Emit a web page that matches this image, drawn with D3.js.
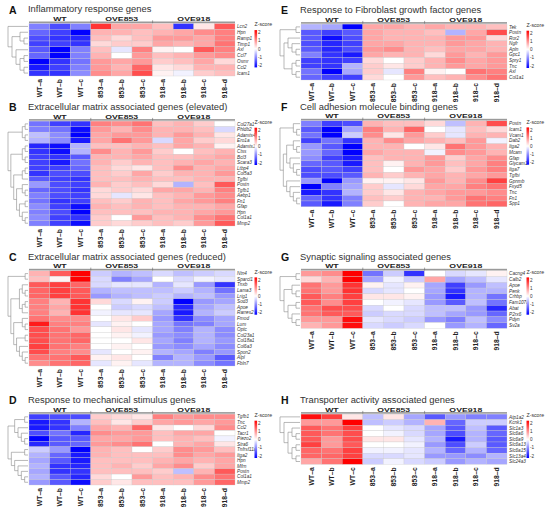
<!DOCTYPE html>
<html>
<head>
<meta charset="utf-8">
<script src="https://cdn.jsdelivr.net/npm/d3@7"></script>
<style>
body { margin: 0; background: #fff; }
svg { display: block; font-family: "Liberation Sans", Arial, sans-serif; }
</style>
</head>
<body>
<svg width="550" height="509"></svg>
<script>
var samples = ["WT–a", "WT–b", "WT–c", "853–a", "853–b", "853–c", "918–a", "918–b", "918–c", "918–d"];
var groupNames = ["WT", "OVE853", "OVE918"];
var groupSizes = [3, 3, 4];
var legendTicks = [2, 1, 0, -1, -2];

// A
var genesA = ["Lcn2", "Hpn", "Ramp1", "Timp1", "Axl", "Ccl7", "Osmr", "Ccl2", "Icam1"];
var valuesA = [
    [-1.0, -1.4, -1.0, 1.6, 0.7, 0.7, 0.5, -1.6, 0.2, 1.3],
    [-1.2, -1.5, -2.0, 0.6, 0.6, 0.5, 0.6, 0.7, 0.9, 1.0],
    [-1.4, -1.6, -1.7, 0.5, 0.3, 0.5, 0.8, 0.8, 0.7, 1.0],
    [-1.5, -1.5, -1.6, 0.3, 0.4, 0.4, 0.7, 0.6, 0.7, 1.1],
    [-1.3, -2.0, -1.0, 0.5, -0.2, 1.0, 0.1, 0.0, 1.3, 1.0],
    [-1.2, -2.0, -1.0, 0.6, 0.0, 0.8, 0.5, 0.6, 0.8, 0.9],
    [-2.0, -1.6, -1.1, 0.8, 0.7, 0.8, 0.4, 0.5, 0.7, 0.3],
    [-1.8, -1.5, -1.0, 0.8, 0.6, 1.2, 0.2, 0.3, 0.6, 0.6],
    [-1.6, -1.6, -0.9, 0.9, 0.7, 1.4, 0.1, -0.1, 0.4, 0.5]
];
var treeA = [0, [[1, [2, 3]], [4, [[5, 6], [7, 8]]]]];

// B
var genesB = ["Col27a1", "Phldb2", "Adamts4", "Ero1a", "Adamts1", "Ctss", "Bcl3", "Scara3", "Ltbp4", "Col5a3",
    "Tgfbi", "Postn", "Tgfb1", "Aebp1", "Fn1", "Gfap", "Hpn", "Col1a1", "Mmp2"];
var valuesB = [
    [-1.1, -1.5, -1.6, 1.0, 0.9, 1.1, 0.5, 0.6, 0.4, 0.0],
    [-1.0, -1.1, -1.9, 0.8, 0.6, 0.9, 0.6, 0.6, 0.5, -0.3],
    [-0.5, -0.9, -2.0, 0.7, 0.8, 0.8, 0.6, 0.8, 0.6, 0.2],
    [-0.6, -0.9, -1.8, 0.7, 1.1, 0.8, -0.3, 0.7, 0.4, 0.3],
    [-1.7, -1.9, -0.6, 0.5, 0.5, 0.6, 0.5, 0.7, 0.6, 0.1],
    [-1.6, -1.9, -0.6, 0.9, 0.6, 0.8, 0.4, 0.0, 0.5, 0.6],
    [-1.5, -1.6, -1.3, 0.6, 0.6, 0.7, 0.5, 0.5, 0.6, 0.7],
    [-1.5, -1.8, -1.1, 0.6, 0.4, 0.6, 0.5, 0.6, 0.7, 0.6],
    [-1.5, -1.5, -1.2, 0.5, 0.3, 0.2, 0.5, 0.9, 0.6, 0.7],
    [-1.6, -1.4, -1.4, 0.5, 0.4, 0.7, 0.4, 0.6, 0.6, 0.8],
    [-1.3, -1.5, -1.6, 0.5, 0.5, 0.6, 0.5, 0.5, 0.6, 0.6],
    [-0.8, -1.4, -1.5, 0.6, 0.4, 0.5, 0.3, -0.6, 0.5, 1.3],
    [-1.2, -1.4, -1.6, 0.3, 0.4, 0.3, 0.7, 0.7, 0.6, 1.0],
    [-1.0, -1.4, -1.5, 0.3, -0.2, 0.2, 0.5, 0.6, 0.8, 0.9],
    [-1.1, -1.6, -1.5, 0.5, 0.4, 0.6, 0.5, 0.7, 0.8, 1.0],
    [-0.9, -1.5, -1.9, 0.6, 0.5, 0.6, 0.5, 0.6, 0.6, 0.7],
    [-1.0, -1.4, -2.0, 0.5, 0.5, 0.5, 0.6, 0.6, 0.7, 0.8],
    [-0.9, -1.5, -1.6, 0.4, 0.0, 0.8, 0.5, 0.6, 0.9, 1.1],
    [-1.0, -1.5, -1.9, 0.4, 0.3, 0.4, 0.5, 0.4, 0.8, 1.3]
];
var treeB = [[[0, 1], [2, 3]], [[[4, 5], [6, 7]], [[[8, 9], 10], [[11, [12, 13]], [[14, 15], [16, [17, 18]]]]]]];

// C
var genesC = ["Ntn4", "Sparcl1", "Tnxb", "Lama3", "Lrig1", "Sod3", "Apoe", "Rarres2", "Fmod", "Lum",
    "Optc", "Col23a1", "Col18a1", "Col6a3", "Spon2", "Alpl", "Fbln7"];
var valuesC = [
    [0.6, 1.3, 2.0, -0.4, -0.6, -0.5, -0.3, -0.5, -0.4, -0.3],
    [0.5, 0.1, 2.0, -0.3, -1.0, -0.7, 0.0, -0.3, -0.1, -0.2],
    [1.3, 1.5, 1.2, -0.3, -0.2, -0.2, -0.6, -0.2, -0.8, -1.6],
    [1.2, 1.5, 1.3, -0.6, -0.5, -0.5, -0.5, -0.4, -0.6, -1.1],
    [1.2, 1.5, 1.3, -0.8, -0.6, -0.5, -0.4, -0.6, -0.5, -0.8],
    [1.0, 0.6, 1.6, 0.3, -0.3, 0.1, -0.4, -2.0, -0.8, -0.7],
    [1.0, 0.7, 1.6, 0.0, -0.4, -0.3, -0.5, -1.7, -0.7, -0.5],
    [1.0, 0.6, 1.6, -0.1, -0.2, -0.2, -0.7, -1.8, -0.6, -0.4],
    [1.1, 0.9, 0.9, 0.0, 0.2, 0.4, -0.8, -1.6, -0.9, -0.7],
    [1.8, 1.0, 1.0, -0.2, 0.1, 0.0, -0.7, -1.1, -1.0, -0.7],
    [1.4, 1.1, 0.8, 0.0, 0.2, -0.2, -0.7, -1.0, -0.6, -0.9],
    [1.4, 1.1, 1.2, 0.0, 0.1, -0.1, -0.8, -0.9, -0.6, -0.9],
    [1.4, 1.1, 1.2, 0.0, 0.0, 0.2, -0.7, -1.0, -0.6, -0.8],
    [1.5, 1.1, 1.0, 0.0, 0.1, 0.0, -0.8, -0.9, -0.7, -0.9],
    [1.4, 1.0, 0.9, -0.2, 0.0, 0.1, -0.6, -0.7, -1.0, -0.8],
    [1.1, 1.1, 1.3, 0.1, 0.2, 0.0, -1.0, -0.6, -0.8, -1.3],
    [0.9, 1.1, 1.2, -0.2, 0.1, -0.2, -0.6, -0.6, -0.9, -1.1]
];
var treeC = [[0, 1], [[[2, [3, 4]], [[5, 6], 7]], [[8, [9, 10]], [[11, 12], [13, [14, [15, 16]]]]]]];

// D
var genesD = ["Tgfb1", "Tnc", "Ccl2", "Tacr1", "Piezo2", "Stra6", "Tnfrsf11a", "Itga2", "Hpn", "Mfrn",
    "Postn", "Col1a1", "Mmp2"];
var valuesD = [
    [-1.5, -1.4, -1.4, 0.4, 0.3, 0.2, 1.0, 0.8, 0.9, 0.9],
    [-1.8, -1.6, -0.6, 0.5, 0.2, 0.4, 0.7, 0.8, 0.7, 0.8],
    [-1.8, -1.6, -1.0, 0.7, 0.6, 1.2, 0.2, 0.0, 0.3, 0.9],
    [-1.4, -1.1, -1.7, 0.9, 0.8, 0.8, 0.5, 0.7, 0.7, 0.0],
    [-2.0, -1.3, -1.3, 0.7, 0.7, 0.8, 0.5, 0.6, 0.5, -0.1],
    [-1.7, -1.3, -1.2, 0.8, 0.9, 1.1, 0.0, 0.6, 0.7, 0.2],
    [-0.4, -0.8, -2.0, 0.6, 0.5, 0.0, 0.4, 0.9, 0.8, 0.5],
    [-0.6, -1.2, -1.8, 0.6, 0.5, 0.5, 0.5, 0.9, 0.7, 0.8],
    [-0.7, -1.3, -1.8, 0.5, 0.5, 0.5, 0.6, 0.7, 0.6, 0.7],
    [-0.6, -1.6, -1.7, 0.5, 0.6, 0.4, 0.7, 0.9, 0.4, 0.7],
    [-0.7, -1.6, -1.6, 0.5, 0.5, 0.5, 0.4, -0.5, 0.6, 1.3],
    [-0.6, -1.3, -1.7, 0.3, 0.0, 0.8, 0.5, 0.6, 0.9, 1.1],
    [-0.8, -1.3, -1.9, 0.4, 0.2, 0.5, 0.5, 0.5, 0.8, 1.2]
];
var treeD = [[[0, 1], [2, [3, [4, 5]]]], [[6, 7], [8, [9, [10, [11, 12]]]]]];

// E
var genesE = ["Tek", "Postn", "Ror2", "Ngfr", "Apln", "Gpc1", "Spry1", "Tnc", "Axl", "Col1a1"];
var valuesE = [
    [-0.6, -0.7, -2.0, 0.7, 0.7, 0.6, 0.7, 0.6, 0.6, 0.5],
    [-1.3, -1.5, -1.3, 0.7, 0.6, 0.6, 0.5, -0.6, 0.7, 1.4],
    [-1.3, -1.9, -1.4, 0.7, 0.6, 0.6, 0.6, 0.8, 0.8, 0.3],
    [-1.4, -1.7, -1.5, 0.7, 0.7, 0.6, 0.6, 0.8, 0.7, 0.6],
    [-1.3, -1.7, -1.4, 0.8, 0.9, 0.6, 0.5, 0.7, 0.7, 0.6],
    [-1.0, -1.6, -1.8, 0.7, 0.6, 0.6, 0.3, 0.8, 0.6, 0.8],
    [-1.5, -1.6, -1.5, 0.3, 0.0, 0.4, 0.6, 0.9, 0.7, 0.8],
    [-1.5, -1.6, -0.6, 0.4, 0.2, 0.4, 0.6, 0.8, 0.7, 0.8],
    [-1.1, -2.0, -0.7, 0.4, -0.2, 1.0, 0.1, 0.0, 1.1, 1.0],
    [-1.2, -1.5, -1.5, 0.3, 0.0, 0.8, 0.5, 0.6, 0.9, 1.1]
];
var treeE = [[0, 1], [[2, [3, [4, 5]]], [[6, 7], [8, 9]]]];

// F
var genesF = ["Postn", "Icam1", "Vcam1", "Dab2", "Itga2", "Mcam", "Gfap", "Glycam1", "Itga7", "Tgfbi",
    "Gpnmb", "Fxyd5", "Tnc", "Fn1", "Spp1"];
var valuesF = [
    [-1.0, -1.5, -1.4, 0.6, 0.5, 0.5, 0.3, -0.5, 0.6, 1.4],
    [-1.3, -2.0, -0.7, 1.0, 0.6, 1.2, 0.0, -0.2, 0.5, 0.3],
    [-1.1, -2.0, -0.4, 0.9, 0.2, 0.8, 0.4, -0.2, 0.6, 0.6],
    [-1.5, -1.1, -1.6, 0.6, 0.9, 0.7, 0.6, 0.5, 0.8, -0.1],
    [-0.8, -1.3, -2.0, 0.6, 0.6, 0.0, 0.2, 1.1, 0.8, 0.6],
    [-0.8, -1.2, -2.0, 0.7, 0.6, 0.6, -0.1, 0.9, 0.8, 0.6],
    [-0.9, -1.5, -1.8, 0.5, 0.6, 0.6, 0.8, 0.4, 0.7, 0.9],
    [-1.2, -1.3, -1.8, 0.5, 0.1, 0.6, 0.8, 0.5, 0.7, 1.0],
    [-1.4, -1.3, -1.5, 0.5, 0.0, 0.8, 0.7, 0.4, 0.8, 1.0],
    [-1.4, -1.4, -1.3, 0.6, 0.4, 0.6, 0.7, 0.6, 0.7, 0.8],
    [-0.8, -2.0, -0.8, 0.1, 0.1, 0.2, 0.8, 0.6, 0.9, 1.5],
    [-2.0, -1.0, -0.7, 0.4, -0.2, 0.3, 0.7, 0.7, 1.0, 1.1],
    [-1.8, -1.6, -0.6, 0.4, 0.2, 0.6, 0.7, 0.8, 0.8, 0.9],
    [-1.2, -1.6, -1.0, 0.5, 0.4, 0.6, 0.6, 0.8, 1.1, 1.0],
    [-1.3, -1.8, -1.0, 0.4, 0.0, 0.6, 0.7, 0.7, 1.1, 1.2]
];
var treeF = [[0, [1, 2]], [[[3, [4, 5]], [6, [7, [8, 9]]]], [10, [11, [12, [13, 14]]]]]];

// G
var genesG = ["Cacng4", "Calb2", "Apoe", "Penk", "Crhbp", "Fam107a", "Abat", "P2rx6", "Pdyn", "Sv2a"];
var valuesG = [
    [0.8, 0.9, 2.0, -1.1, -0.4, -1.6, 0.0, -0.3, -0.2, 0.1],
    [0.3, 0.6, 2.0, -0.7, -0.1, -0.4, 0.7, -0.7, -0.5, -0.2],
    [1.1, 0.8, 1.6, 0.1, -0.2, 0.1, -0.7, -1.5, -0.8, -0.5],
    [1.1, 0.8, 1.6, -0.3, -0.2, 0.0, -0.7, -1.6, -0.6, -0.6],
    [1.3, 1.0, 1.5, 0.2, 0.2, 0.1, -0.8, -1.8, -0.6, -1.1],
    [1.3, 0.9, 1.5, 0.0, -0.1, -0.2, -0.8, -1.3, -0.5, -1.1],
    [1.1, 1.4, 1.4, -0.3, 0.0, -0.3, -0.5, -0.5, -0.8, -1.7],
    [1.1, 1.3, 1.3, -0.4, -0.3, -0.3, -0.5, -0.7, -0.8, -1.2],
    [0.8, 0.8, 1.9, -0.2, -0.3, -0.4, -0.8, -1.0, -0.5, -0.9],
    [0.6, 0.8, 1.9, -0.3, -0.4, -0.3, 0.0, -0.8, -0.6, -1.2]
];
var treeG = [[0, 1], [[2, [3, 4]], [[5, 6], [7, [8, 9]]]]];

// H
var genesH = ["Atp1a2", "Kcnk1", "Slc1a3", "Slc6a6", "Slc6a9", "Slc6a13", "Slc6a15", "Slc13a4", "Slc24a3"];
var valuesH = [
    [1.9, 1.5, 0.2, -0.5, 0.2, -0.7, -1.3, -0.8, -1.0, -1.0],
    [0.8, 0.8, 2.0, -0.5, -0.4, -0.6, 0.6, -1.2, -0.4, -0.4],
    [1.3, 1.1, 1.5, 0.0, -0.2, -0.3, -0.7, -1.3, -0.5, -1.3],
    [1.3, 1.1, 1.4, 0.0, -0.1, -0.3, -0.7, -1.4, -0.6, -1.2],
    [1.3, 0.8, 1.4, 0.2, 0.2, -0.2, -0.6, -1.8, -0.6, -1.3],
    [1.5, 0.8, 1.3, 0.0, 0.0, -0.1, -0.8, -1.4, -0.4, -1.3],
    [1.2, 1.1, 1.5, -0.1, -0.1, -0.2, -0.6, -1.2, -0.6, -1.2],
    [1.2, 1.2, 1.5, -0.3, -0.3, -0.2, -0.8, -0.8, -0.9, -0.6],
    [0.7, 1.1, 2.0, -0.4, -0.1, -0.3, -0.4, -0.8, -0.6, -0.7]
];
var treeH = [0, [1, [[2, [3, 4]], [[5, 6], [7, 8]]]]];

var panels = [
    {letter: "A", title: "Inflammatory response genes", genes: genesA, values: valuesA, tree: treeA, x: 29, top: 22.7, bottom: 76},
    {letter: "B", title: "Extracellular matrix associated genes (elevated)", genes: genesB, values: valuesB, tree: treeB, x: 29, top: 120.3, bottom: 226},
    {letter: "C", title: "Extracellular matrix associated genes (reduced)", genes: genesC, values: valuesC, tree: treeC, x: 29, top: 270, bottom: 366},
    {letter: "D", title: "Response to mechanical stimulus genes", genes: genesD, values: valuesD, tree: treeD, x: 29, top: 413.3, bottom: 485},
    {letter: "E", title: "Response to Fibroblast growth factor genes", genes: genesE, values: valuesE, tree: treeE, x: 301, top: 23.3, bottom: 80},
    {letter: "F", title: "Cell adhesion molecule binding genes", genes: genesF, values: valuesF, tree: treeF, x: 301, top: 120, bottom: 206.7},
    {letter: "G", title: "Synaptic signaling associated genes", genes: genesG, values: valuesG, tree: treeG, x: 301, top: 270, bottom: 328.3},
    {letter: "H", title: "Transporter activity associated genes", genes: genesH, values: valuesH, tree: treeH, x: 301, top: 413.3, bottom: 464.3}
];

var svg = d3.select("svg");
var color = d3.scaleLinear().domain([-2, 0, 2]).range(["#0000ff", "#ffffff", "#ff0000"]);
var heatW = 206;

var grad = svg.append("defs").append("linearGradient")
    .attr("id", "zgrad").attr("x1", 0).attr("y1", 0).attr("x2", 0).attr("y2", 1);
grad.selectAll("stop")
    .data(legendTicks)
    .enter().append("stop")
    .attr("offset", function (d, i) { return i / (legendTicks.length - 1); })
    .attr("stop-color", function (d) { return color(d); });

function drawPanel(p) {
    var g = svg.append("g");
    var x = d3.scaleBand().domain(samples).range([p.x, p.x + heatW]);
    var y = d3.scaleBand().domain(p.genes).range([p.top + 0.8, p.bottom]);

    // letter + title (source figure is a bit stretched sideways)
    g.append("text").attr("x", p.x - 20).attr("y", p.top - 9)
        .attr("font-size", 10.5).attr("font-weight", "bold").attr("fill", "#111")
        .text(p.letter);
    g.append("text")
        .attr("transform", "translate(" + (p.x - 1) + "," + (p.top - 10.5) + ") scale(1.13,1)")
        .attr("font-size", 8.3).attr("fill", "#333")
        .text(p.title);

    // cells
    var cells = [];
    p.values.forEach(function (row, r) {
        row.forEach(function (v, c) {
            cells.push({gene: p.genes[r], sample: samples[c], v: v});
        });
    });
    g.selectAll("rect.cell")
        .data(cells)
        .enter().append("rect")
        .attr("class", "cell")
        .attr("x", function (d) { return x(d.sample); })
        .attr("y", function (d) { return y(d.gene); })
        .attr("width", x.bandwidth())
        .attr("height", y.bandwidth())
        .attr("fill", function (d) { return color(d.v); })
        .attr("stroke", "#c8c8c8")
        .attr("stroke-width", 0.3);

    // group header bar
    g.append("rect").attr("x", p.x).attr("y", p.top - 1.2)
        .attr("width", heatW).attr("height", 1.6).attr("fill", "#9a9a9a");
    var start = 0;
    groupNames.forEach(function (name, i) {
        var x0 = x(samples[start]);
        var x1 = x(samples[start + groupSizes[i] - 1]) + x.bandwidth();
        if (i > 0) {
            g.append("line").attr("x1", x0).attr("x2", x0)
                .attr("y1", p.top - 2.4).attr("y2", p.top + 0.4)
                .attr("stroke", "#666").attr("stroke-width", 0.6);
        }
        g.append("text")
            .attr("transform", "translate(" + ((x0 + x1) / 2) + "," + (p.top - 1.8) + ") scale(1.45,1)")
            .attr("text-anchor", "middle").attr("font-size", 6)
            .attr("font-weight", "bold").attr("fill", "#222")
            .text(name);
        start += groupSizes[i];
    });

    // gene labels
    g.selectAll("text.gene")
        .data(p.genes)
        .enter().append("text")
        .attr("class", "gene")
        .attr("x", p.x + heatW + 2)
        .attr("y", function (d) { return y(d) + y.bandwidth() / 2; })
        .attr("dy", "0.35em")
        .attr("font-size", 4.7).attr("font-style", "italic").attr("fill", "#333")
        .text(function (d) { return d; });

    // sample labels
    g.selectAll("text.sample")
        .data(samples)
        .enter().append("text")
        .attr("class", "sample")
        .attr("transform", function (d) {
            return "translate(" + (x(d) + x.bandwidth() / 2) + "," + (p.bottom + 3) + ") rotate(-90)";
        })
        .attr("dy", "0.35em")
        .attr("text-anchor", "end")
        .attr("font-size", 6.8).attr("font-weight", "bold").attr("fill", "#222")
        .text(function (d) { return d; });

    // legend
    var lx = p.x + heatW + 19.5;
    var ly0 = p.top + 7.4, ly1 = p.top + 44.7;
    g.append("text").attr("x", lx).attr("y", p.top + 3.6)
        .attr("font-size", 5.2).attr("fill", "#333").text("Z-score");
    g.append("rect").attr("x", lx).attr("y", ly0)
        .attr("width", 2.6).attr("height", ly1 - ly0)
        .attr("fill", "url(#zgrad)");
    var ls = d3.scaleLinear().domain([2, -2]).range([ly0 + 2.5, ly1 - 2]);
    g.selectAll("text.tick")
        .data(legendTicks)
        .enter().append("text")
        .attr("class", "tick")
        .attr("x", lx + 3.6)
        .attr("y", function (d) { return ls(d); })
        .attr("dy", "0.35em")
        .attr("font-size", 4.6).attr("fill", "#333")
        .text(function (d) { return d; });

    // dendrogram
    var root = d3.hierarchy(p.tree, function (d) { return Array.isArray(d) ? d : null; });
    var dw = 20;
    root.eachAfter(function (n) {
        if (!n.children) {
            n.py = y(p.genes[n.data]) + y.bandwidth() / 2;
        } else {
            n.py = d3.mean(n.children, function (c) { return c.py; });
        }
        n.px = p.x - 1 - n.height / root.height * dw;
    });
    var segs = [];
    root.each(function (n) {
        if (!n.children) return;
        var ys = n.children.map(function (c) { return c.py; });
        segs.push([n.px, d3.min(ys), n.px, d3.max(ys)]);
        n.children.forEach(function (c) {
            segs.push([n.px, c.py, c.px, c.py]);
        });
    });
    g.selectAll("line.dend")
        .data(segs)
        .enter().append("line")
        .attr("class", "dend")
        .attr("x1", function (d) { return d[0]; })
        .attr("y1", function (d) { return d[1]; })
        .attr("x2", function (d) { return d[2]; })
        .attr("y2", function (d) { return d[3]; })
        .attr("stroke", "#8a8a8a")
        .attr("stroke-width", 0.6);
}

panels.forEach(drawPanel);
</script>
</body>
</html>
